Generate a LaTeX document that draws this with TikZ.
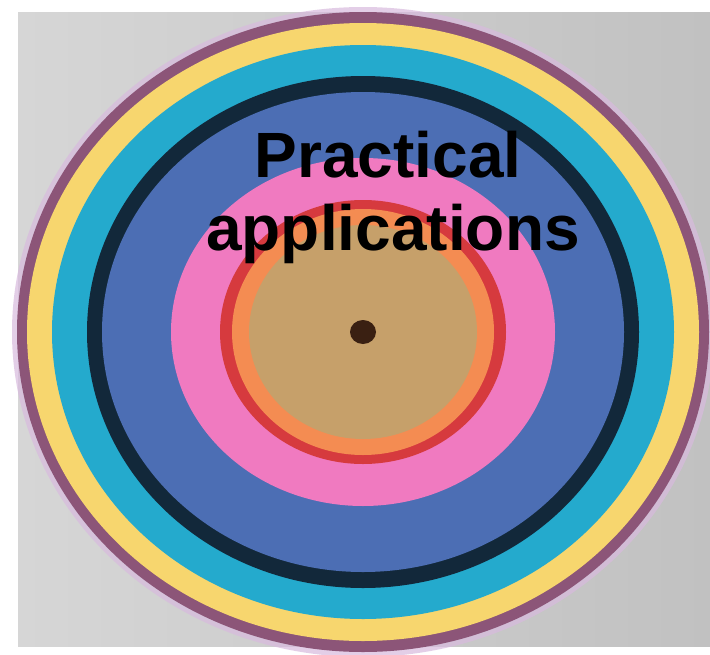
\documentclass[tikz,border=0pt]{standalone}
\usepackage{fontspec}
\setmainfont{Liberation Sans}
\usepackage{tikz}

\definecolor{bgleft}{RGB}{214,214,214}
\definecolor{bgright}{RGB}{193,193,193}
\definecolor{halo}{RGB}{216,186,222}
\definecolor{ringpurple}{RGB}{140,85,120}
\definecolor{ringyellow}{RGB}{247,214,110}
\definecolor{ringcyan}{RGB}{36,170,205}
\definecolor{ringnavy}{RGB}{18,40,58}
\definecolor{ringblue}{RGB}{76,110,180}
\definecolor{ringpink}{RGB}{240,122,192}
\definecolor{ringred}{RGB}{214,58,62}
\definecolor{ringorange}{RGB}{244,140,82}
\definecolor{ringtan}{RGB}{198,160,106}
\definecolor{bullseye}{RGB}{58,32,18}

\begin{document}
\begin{tikzpicture}[x=1pt, y=-1pt,
    label text/.style={font=\bfseries\fontsize{64}{73}\selectfont, text=black, anchor=base, inner sep=0pt}]
  \useasboundingbox (0,0) rectangle (710,654);
  % Backdrop
  \fill[white] (0,0) rectangle (710,654);
  \shade[left color=bgleft, right color=bgright] (18,12) rectangle (710,646);
  % Rings, from the outside in
  \fill[halo, opacity=0.7] (363,332) ellipse [x radius=351, y radius=325];
  \fill[ringpurple] (363,332) ellipse [x radius=346, y radius=320];
  \fill[ringyellow] (363,332) ellipse [x radius=336, y radius=309];
  \fill[ringcyan] (363,332) ellipse [x radius=311, y radius=287];
  \fill[ringnavy] (363,332) ellipse [x radius=276, y radius=256];
  \fill[ringblue] (363,332) ellipse [x radius=261, y radius=240];
  \fill[ringpink] (363,332) ellipse [x radius=192, y radius=174];
  \fill[ringred] (363,332) ellipse [x radius=143, y radius=132];
  \fill[ringorange] (363,332) ellipse [x radius=131, y radius=123];
  \fill[ringtan] (363,332) ellipse [x radius=114, y radius=107];
  % Centre dot
  \fill[bullseye] (363,332) ellipse [x radius=13, y radius=12];
  % Title
  \node[label text] (prac) at (388,177) {Practical};
  \node[label text] (appl) at (393,250) {applications};
\end{tikzpicture}
\end{document}
